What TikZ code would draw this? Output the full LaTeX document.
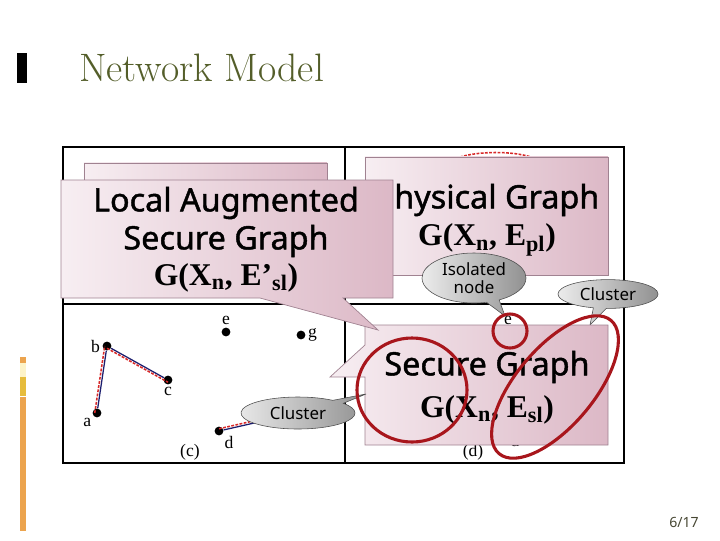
\documentclass[tikz,border=0pt]{standalone}
\usepackage{fontspec}
\newfontfamily\calloutfont{Noto Sans}
\newfontfamily\calloutheavy{Noto Sans}[RawFeature={embolden=1.3}]
\newfontfamily\lbfont{Liberation Serif}
\usetikzlibrary{calc,shapes.geometric,shapes.callouts}

\definecolor{titlegreen}{RGB}{84,94,42}
\definecolor{pinkL}{RGB}{247,238,242}
\definecolor{pinkR}{RGB}{220,184,198}
\definecolor{pinkLine}{RGB}{160,130,145}
\definecolor{circRed}{RGB}{168,22,28}
\definecolor{edgeBlue}{RGB}{28,30,110}
\definecolor{dashRed}{RGB}{215,40,40}
\definecolor{bubbleL}{RGB}{236,236,236}
\definecolor{bubbleR}{RGB}{145,145,145}
\definecolor{barOrange}{RGB}{236,164,78}
\definecolor{barLight}{RGB}{253,243,200}
\definecolor{barGold}{RGB}{230,188,60}
\definecolor{pagegrey}{RGB}{70,70,50}

\begin{document}
\begin{tikzpicture}[x=0.025cm,y=-0.025cm,
  vertex/.style={circle,fill=black,inner sep=0pt,minimum size=2.2mm},
  vlabel/.style={font=\lbfont\fontsize{12.5}{14}\selectfont,inner sep=1.5pt},
  pinkbox/.style={left color=pinkL,right color=pinkR,draw=pinkLine,line width=0.5pt},
  bubble/.style={ellipse callout,left color=bubbleL,right color=bubbleR,
    draw=gray!60!black,line width=0.4pt,inner sep=0pt,align=center,
    font=\calloutfont\fontsize{12}{14}\selectfont},
  bigtext/.style={font=\calloutheavy\fontsize{23}{27}\selectfont,inner sep=0pt},
  gtext/.style={font=\lbfont\bfseries\fontsize{22.5}{26}\selectfont,inner sep=0pt},
  blueedge/.style={edgeBlue,line width=0.9pt},
  reddash/.style={dashRed,line width=1.1pt,dash pattern=on 2pt off 1pt},
  ring/.style={circRed,line width=2.2pt}]

\useasboundingbox (0,0) rectangle (720,540);

% slide decoration
\fill[black] (17,53) rectangle (27,83);
\node[anchor=base west,text=titlegreen,font=\fontsize{28.2}{32}\selectfont,inner sep=0pt]
  (title) at (79,81) {Network Model};
\fill[barOrange] (20,357) rectangle (26,363);
\fill[barLight] (20,363) rectangle (26,377);
\fill[barGold] (20,377) rectangle (26,396);
\fill[barOrange] (20,397) rectangle (26,531);
\node[text=pagegrey,font=\calloutfont\fontsize{10}{12}\selectfont] (page) at (684,522) {6/17};

% figure frame with four panels
\draw[line width=2pt] (63,147) rectangle (624,463);
\draw[line width=1.5pt] (345,147) -- (345,463);
\draw[line width=1.5pt] (63,304) -- (624,304);

% panel (c)
\node[vertex,label={[vlabel]below left:a}] (a) at (97,413) {};
\node[vertex,label={[vlabel]left:b}] (b) at (107,346) {};
\node[vertex,label={[vlabel]below:c}] (c) at (168,380) {};
\node[vertex,label={[vlabel]above:e}] (e) at (226,332) {};
\node[vertex,label={[vlabel]right:g}] (g) at (301,335) {};
\node[vertex,label={[vlabel]below right:d}] (d) at (219,431) {};
\node[vlabel] (capc) at (190,452) {(c)};
\coordinate (clc) at (298,413);

\draw[blueedge] (a) -- (b);
\draw[blueedge] (b) -- (c);
\draw[blueedge] (d) -- (clc);
\draw[reddash] ([xshift=-1.6pt]a.center) -- ([xshift=-1.6pt]b.center);
\draw[reddash] ([yshift=-1.6pt]b.center) -- ([yshift=-1.6pt]c.center);
\draw[reddash] ([yshift=1.6pt]d.center) -- ([yshift=1.6pt]$(d)!0.5!(clc)$);

% panel (d)
\node[vlabel] (ed) at (508,320) {e};
\node[vlabel] (dd) at (515,440) {d};
\node[vlabel] (capd) at (473,452) {(d)};

% panel (b), mostly hidden
\draw[reddash] (460,157) .. controls (480,151) and (512,151) .. (531,157);

% callouts
\node[pinkbox,rectangle,minimum width=6.08cm,minimum height=2.5cm] (backbox) at (205.5,213) {};
\node[pinkbox,rectangle,minimum width=6.08cm,minimum height=2.95cm] (physbox) at (486.5,216) {};
\node[bigtext] (phystxt) at (487,200) {Physical Graph};
\node[gtext] (physG) at (487,240) {G(X\textsubscript{n}, E\textsubscript{pl})};

\node[bubble,minimum width=2.6cm,minimum height=1.25cm,
  callout absolute pointer={(505,316)}] (iso) at (474,278) {Isolated\\[-1pt]node};
\node[bubble,minimum width=2.5cm,minimum height=0.72cm,
  callout absolute pointer={(590,325)}] (clusterTR) at (608,294) {Cluster};

\path[pinkbox] (365,325) -- (608,325) -- (608,445) -- (365,445) -- (365,377)
  -- (330,377) -- (365,345) -- cycle;
\node[bigtext] (securetxt) at (487,367) {Secure Graph};
\node[gtext] (secureG) at (487,410) {G(X\textsubscript{n}, E\textsubscript{sl})};

\path[pinkbox] (61,180) -- (393,180) -- (393,298) -- (343,298) -- (378,330)
  -- (260,298) -- (61,298) -- cycle;
\node[bigtext] (localtxt1) at (226,203) {Local Augmented};
\node[bigtext] (localtxt2) at (226,241) {Secure Graph};
\node[gtext] (localG) at (226,278) {G(X\textsubscript{n}, E’\textsubscript{sl})};

\node[bubble,minimum width=2.85cm,minimum height=0.8cm,
  callout absolute pointer={(366,394)}] (clusterBL) at (clc) {Cluster};

% hand-drawn rings
\draw[ring] (412,390) ellipse [x radius=55, y radius=52];
\draw[ring] (510,331) circle [radius=17];
\draw[ring] (555,387) ellipse [x radius=87, y radius=39, rotate=50];

\end{tikzpicture}
\end{document}
